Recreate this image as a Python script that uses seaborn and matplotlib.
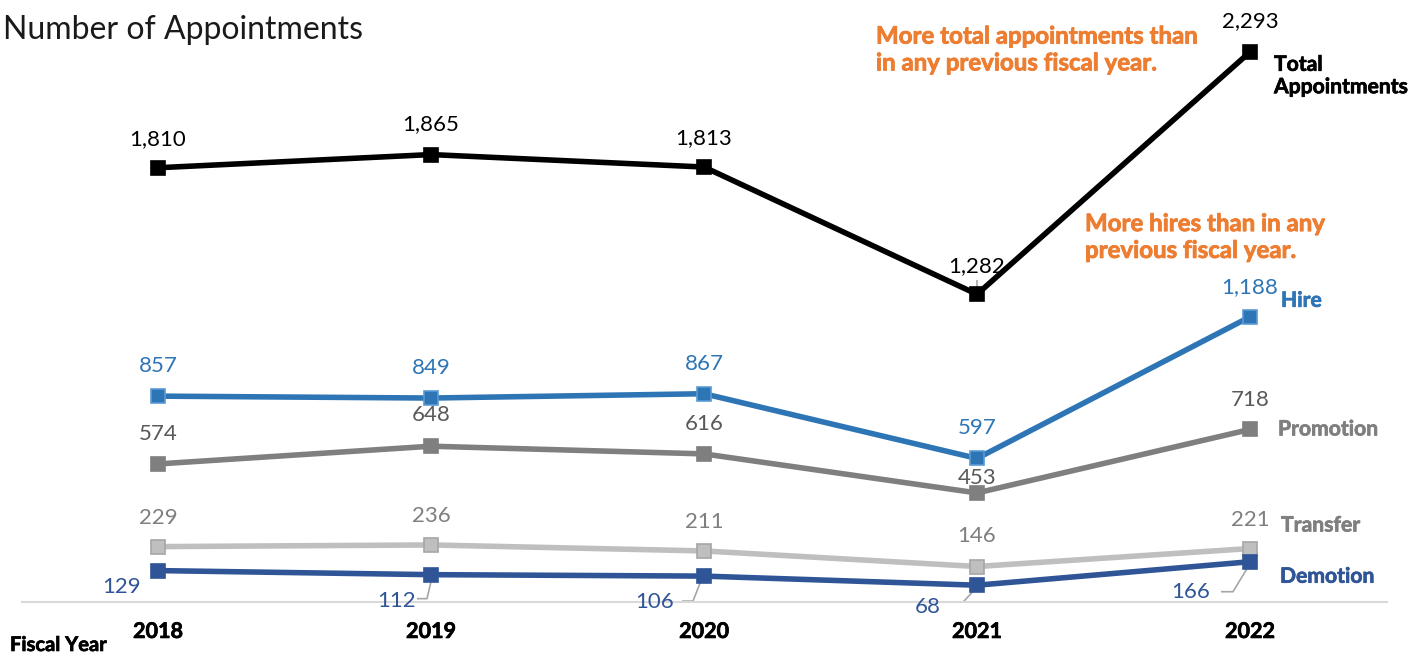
import numpy as np
import pandas as pd
import matplotlib
matplotlib.use("Agg")
import matplotlib.pyplot as plt
import matplotlib.patheffects as pe
import seaborn as sns

years = ["2018", "2019", "2020", "2021", "2022"]
total = [1810, 1865, 1813, 1282, 2293]
hire = [857, 849, 867, 597, 1188]
promotion = [574, 648, 616, 453, 718]
transfer = [229, 236, 211, 146, 221]
demotion = [129, 112, 106, 68, 166]

series_names = ["Total Appointments", "Hire", "Promotion", "Transfer", "Demotion"]
series_values = [total, hire, promotion, transfer, demotion]

sns.set_theme(style="white")
plt.rcParams["font.family"] = ["Lato", "DejaVu Sans"]

W, H, DPI = 1424, 658, 100
fig = plt.figure(figsize=(W / DPI, H / DPI), dpi=DPI)
left_px, right_px, bottom_px = 21.5, 1386.5, 601.5
ax = fig.add_axes([left_px / W, (H - bottom_px) / H, (right_px - left_px) / W, bottom_px / H])

df = pd.DataFrame({
    "x": np.tile(np.arange(len(years)), len(series_names)),
    "value": np.concatenate(series_values),
    "series": np.repeat(series_names, len(years)),
})

style = {
    "Total Appointments": dict(line="#000000", face="#000000", edge="#000000", text="#000000", name="#000000"),
    "Hire": dict(line="#2E75B6", face="#2E75B6", edge="#5B9BD5", text="#2E75B6", name="#2E75B6"),
    "Promotion": dict(line="#7F7F7F", face="#7F7F7F", edge="#7F7F7F", text="#595959", name="#7F7F7F"),
    "Transfer": dict(line="#BFBFBF", face="#BFBFBF", edge="#A6A6A6", text="#7F7F7F", name="#7F7F7F"),
    "Demotion": dict(line="#2F5597", face="#2F5597", edge="#2F5597", text="#2F5597", name="#2F5597"),
}


def heavy(color, w=0.5):
    # thicken bold Lato glyphs slightly
    return [pe.withStroke(linewidth=w, foreground=color)]


for name in ["Transfer", "Demotion", "Promotion", "Hire", "Total Appointments"]:
    st = style[name]
    sns.lineplot(data=df[df["series"] == name], x="x", y="value", ax=ax,
                 color=st["line"], linewidth=4.0, marker="s", markersize=10,
                 markerfacecolor=st["face"], markeredgecolor=st["edge"],
                 markeredgewidth=1.2, legend=False)

ax.set_xlim(-0.5, len(years) - 0.5)
ax.set_ylim(0, 2510)
ax.set_xticks(range(len(years)))
ax.set_xticklabels(years, fontsize=15.5, fontweight="bold", color="black")
for t in ax.get_xticklabels():
    t.set_path_effects(heavy("black"))
ax.tick_params(axis="x", length=0, pad=14)
ax.set_yticks([])
ax.set_xlabel("")
ax.set_ylabel("")
for s in ["top", "left", "right"]:
    ax.spines[s].set_visible(False)
ax.spines["bottom"].set_color("#D9D9D9")
ax.spines["bottom"].set_linewidth(1.5)

# value labels: offsets in pixels from each marker
up = {"Total Appointments": [29, 30, 29, 28, 31],
      "Hire": [30, 30, 30, 30, 30],
      "Promotion": [30, 31, 30, 15, 29],
      "Transfer": [29, 29, 29, 31, 29]}
for name, vals in zip(series_names, series_values):
    st = style[name]
    if name == "Demotion":
        continue
    for i, v in enumerate(vals):
        ax.annotate(f"{v:,}", (i, v), xytext=(0, up[name][i]), textcoords="offset pixels",
                    ha="center", va="center", fontsize=16, color=st["text"])

dem_offsets = [(-36, -16), (-34, -26), (-49, -26), (-49, -22), (-59, -30)]
for i, v in enumerate(demotion):
    ax.annotate(f"{v:,}", (i, v), xytext=dem_offsets[i], textcoords="offset pixels",
                ha="center", va="center", fontsize=16, color=style["Demotion"]["text"])

fig.canvas.draw()


def leader(i, v, pts):
    base = ax.transData.transform((i, v))
    disp = np.array([base + np.array(p) for p in pts])
    data = ax.transData.inverted().transform(disp)
    ax.plot(data[:, 0], data[:, 1], color="#A6A6A6", lw=1.2, zorder=1.5, solid_capstyle="butt")


leader(1, demotion[1], [(-14, -24), (-4, -24), (0, -7)])
leader(2, demotion[2], [(-22, -25), (-11, -25), (-2, -2)])
leader(3, demotion[3], [(-27, -18), (-15, -18), (0, -2)])
leader(4, demotion[4], [(-29, -30), (-17, -30), (0, -2)])
leader(3, total[3], [(0, 7), (0, 14)])

# series names at the right end of each line
name_offsets = {"Total Appointments": (24, -24), "Hire": (31, 16), "Promotion": (28, 0),
                "Transfer": (31, 23), "Demotion": (30, -15)}
name_text = {"Total Appointments": "Total\nAppointments"}
last = len(years) - 1
for name, vals in zip(series_names, series_values):
    ax.annotate(name_text.get(name, name), (last, vals[last]), xytext=name_offsets[name],
                textcoords="offset pixels", ha="left", va="center", fontsize=15.2,
                fontweight="bold", color=style[name]["name"], linespacing=1.15,
                path_effects=heavy(style[name]["name"]))

# headline and notes
fig.text(3 / W, 1 - 30 / H, "Number of Appointments", fontsize=23, color="#1A1A1A",
         ha="left", va="center")
fig.text(10 / W, 1 - 645 / H, "Fiscal Year", fontsize=14.5, fontweight="bold",
         color="black", ha="left", va="center", path_effects=heavy("black"))
fig.text(876 / W, 1 - 49.5 / H, "More total appointments than\nin any previous fiscal year.",
         fontsize=17.3, fontweight="bold", color="#ED7D31", ha="left", va="center",
         linespacing=1.2, path_effects=heavy("#ED7D31", 0.6))
fig.text(1085 / W, 1 - 237 / H, "More hires than in any\nprevious fiscal year.",
         fontsize=17.3, fontweight="bold", color="#ED7D31", ha="left", va="center",
         linespacing=1.2, path_effects=heavy("#ED7D31", 0.6))

fig.savefig("out.png", dpi=DPI)
